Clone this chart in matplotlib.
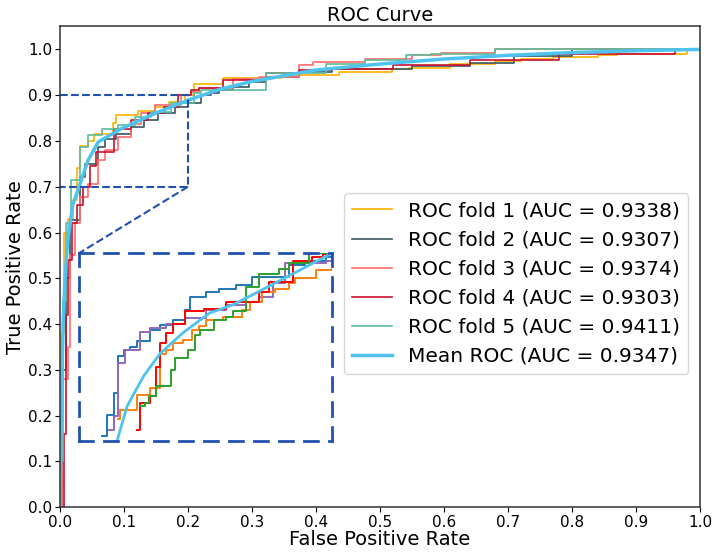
import matplotlib
matplotlib.use('Agg')
import matplotlib.pyplot as plt
import numpy as np

# main ROC curves (fpr, tpr vertices, drawn as steps)
fpr1 = [0, 0.002, 0.006, 0.012, 0.02, 0.026, 0.031, 0.044, 0.054, 0.083, 0.088, 0.122, 0.148, 0.17, 0.195, 0.21,
        0.254, 0.347, 0.436, 0.518, 0.545, 0.61, 0.68, 0.72, 0.77, 0.84, 0.87, 0.98, 1.0]
tpr1 = [0, 0.38, 0.60, 0.63, 0.67, 0.74, 0.79, 0.80, 0.815, 0.84, 0.856, 0.866, 0.875, 0.885, 0.90, 0.925,
        0.937, 0.944, 0.95, 0.957, 0.96, 0.968, 0.975, 0.979, 0.984, 0.988, 0.991, 1.0, 1.0]

fpr2 = [0, 0.004, 0.01, 0.0155, 0.031, 0.039, 0.06, 0.07, 0.088, 0.111, 0.132, 0.153, 0.179, 0.20, 0.22, 0.236,
        0.249, 0.27, 0.296, 0.322, 0.374, 0.425, 0.55, 0.64, 0.71, 0.80, 1.0]
tpr2 = [0, 0.30, 0.50, 0.627, 0.722, 0.75, 0.787, 0.805, 0.816, 0.831, 0.845, 0.86, 0.875, 0.883, 0.90, 0.905,
        0.911, 0.918, 0.929, 0.94, 0.951, 0.957, 0.964, 0.971, 0.985, 1.0, 1.0]

fpr3 = [0, 0.003, 0.012, 0.016, 0.023, 0.031, 0.044, 0.06, 0.07, 0.091, 0.111, 0.127, 0.148, 0.189, 0.205, 0.218,
        0.27, 0.311, 0.374, 0.395, 0.477, 0.55, 0.596, 0.68, 1.0]
tpr3 = [0, 0.28, 0.35, 0.55, 0.62, 0.678, 0.707, 0.758, 0.78, 0.809, 0.838, 0.86, 0.878, 0.90, 0.907, 0.915,
        0.935, 0.94, 0.966, 0.973, 0.98, 0.988, 0.993, 1.0, 1.0]

fpr4 = [0, 0.006, 0.009, 0.012, 0.0186, 0.026, 0.036, 0.047, 0.057, 0.085, 0.111, 0.137, 0.163, 0.184, 0.205,
        0.218, 0.254, 0.322, 0.374, 0.425, 0.52, 0.64, 0.78, 0.96, 1.0]
tpr4 = [0, 0.16, 0.42, 0.54, 0.62, 0.66, 0.70, 0.745, 0.775, 0.827, 0.845, 0.86, 0.875, 0.90, 0.911,
        0.915, 0.933, 0.948, 0.955, 0.957, 0.965, 0.976, 0.99, 1.0, 1.0]

fpr5 = [0, 0.002, 0.005, 0.01, 0.018, 0.031, 0.044, 0.065, 0.091, 0.117, 0.142, 0.174, 0.21, 0.22, 0.322,
        0.415, 0.477, 0.54, 0.58, 0.68, 1.0]
tpr5 = [0, 0.10, 0.45, 0.62, 0.715, 0.787, 0.813, 0.827, 0.835, 0.853, 0.864, 0.882, 0.904, 0.912, 0.948,
        0.969, 0.976, 0.987, 0.99, 1.0, 1.0]

mean_fpr = [0, 0.002, 0.005, 0.008, 0.012, 0.02, 0.03, 0.044, 0.06, 0.096, 0.148, 0.2, 0.25, 0.3, 0.4, 0.5,
            0.6, 0.7, 0.8, 0.9, 1.0]
mean_tpr = [0, 0.20, 0.40, 0.50, 0.58, 0.66, 0.70, 0.758, 0.798, 0.827, 0.86, 0.889, 0.913, 0.93, 0.955, 0.968,
            0.979, 0.987, 0.993, 0.997, 1.0]

fold_fpr = [fpr1, fpr2, fpr3, fpr4, fpr5]
fold_tpr = [tpr1, tpr2, tpr3, tpr4, tpr5]
fold_auc = [0.9338, 0.9307, 0.9374, 0.9303, 0.9411]
mean_auc = 0.9347
fold_colors = ['#FFB000', '#3A5560', '#FF6B6B', '#C8102E', '#5DBB9A']
mean_color = '#4FC3F0'

# zoomed-in curves shown in the inset (x 0-0.2, y 0.7-0.9)
in_fpr_blue = [0.0183, 0.0222, 0.0274, 0.031, 0.0353, 0.0405, 0.0457, 0.056, 0.064, 0.0745, 0.0836, 0.0876,
               0.1006, 0.111, 0.124, 0.137, 0.166, 0.179, 0.195, 0.2]
in_tpr_blue = [0.705, 0.728, 0.751, 0.79, 0.797, 0.80, 0.806, 0.818, 0.823, 0.829, 0.839, 0.853,
               0.859, 0.862, 0.866, 0.875, 0.887, 0.892, 0.896, 0.898]
in_fpr_purple = [0.0235, 0.0274, 0.031, 0.0366, 0.0484, 0.056, 0.069, 0.0836, 0.1006, 0.116, 0.132, 0.142,
                 0.153, 0.163, 0.195, 0.2]
in_tpr_purple = [0.712, 0.726, 0.783, 0.797, 0.816, 0.82, 0.825, 0.831, 0.839, 0.845, 0.848, 0.853,
                 0.868, 0.89, 0.892, 0.896]
in_fpr_red = [0.0457, 0.048, 0.056, 0.061, 0.064, 0.069, 0.0745, 0.0836, 0.099, 0.116, 0.142, 0.150, 0.169,
              0.184, 0.193, 0.2]
in_tpr_red = [0.712, 0.74, 0.748, 0.779, 0.804, 0.815, 0.825, 0.838, 0.841, 0.848, 0.859, 0.869, 0.892,
              0.896, 0.899, 0.900]
in_fpr_green = [0.048, 0.052, 0.055, 0.061, 0.073, 0.0758, 0.0863, 0.0915, 0.0954, 0.107, 0.116, 0.1216,
                0.132, 0.1425, 0.158, 0.166, 0.182, 0.2]
in_tpr_green = [0.737, 0.74, 0.748, 0.758, 0.776, 0.788, 0.797, 0.813, 0.818, 0.829, 0.832, 0.838,
                0.864, 0.878, 0.883, 0.889, 0.90, 0.90]
in_fpr_orange = [0.031, 0.0325, 0.0457, 0.056, 0.064, 0.069, 0.0745, 0.082, 0.0889, 0.095, 0.1, 0.114, 0.129,
                 0.135, 0.145, 0.155, 0.166, 0.171, 0.187, 0.2]
in_tpr_orange = [0.723, 0.733, 0.749, 0.756, 0.793, 0.797, 0.804, 0.808, 0.818, 0.822, 0.829, 0.832, 0.839,
                 0.848, 0.859, 0.862, 0.868, 0.873, 0.882, 0.883]
in_fpr_mean = [0.030, 0.038, 0.051, 0.064, 0.082, 0.103, 0.1216, 0.142, 0.169, 0.2]
in_tpr_mean = [0.70, 0.737, 0.769, 0.793, 0.815, 0.836, 0.845, 0.859, 0.878, 0.90]

inset_fprs = [in_fpr_blue, in_fpr_purple, in_fpr_orange, in_fpr_red, in_fpr_green]
inset_tprs = [in_tpr_blue, in_tpr_purple, in_tpr_orange, in_tpr_red, in_tpr_green]
inset_colors = ['#1f77b4', '#9467bd', '#ff7f0e', 'red', '#2ca02c']

box_color = '#2050B0'

fig, ax = plt.subplots(figsize=(7.13, 5.52), dpi=100)
fig.subplots_adjust(left=0.084, right=0.982, bottom=0.081, top=0.952)

for i in range(5):
    ax.plot(fold_fpr[i], fold_tpr[i], color=fold_colors[i], lw=1.2, drawstyle='steps-post',
            label='ROC fold %d (AUC = %.4f)' % (i + 1, fold_auc[i]))
ax.plot(mean_fpr, mean_tpr, color=mean_color, lw=2.5, label='Mean ROC (AUC = %.4f)' % mean_auc)

# zoom rectangle and connector
ax.plot([0, 0.2, 0.2, 0], [0.9, 0.9, 0.7, 0.7], ls='--', color=box_color, lw=1.5)
ax.plot([0.2, 0.03], [0.7, 0.555], ls='--', color=box_color, lw=1.5)

ax.set_xlim(0, 1)
ax.set_ylim(0, 1.05)
ax.set_xticks(np.arange(0, 1.01, 0.1))
ax.set_yticks(np.arange(0, 1.01, 0.1))
ax.tick_params(labelsize=11, pad=2)
for sp in ax.spines.values():
    sp.set_color('#333333')
    sp.set_linewidth(1.1)
ax.set_xlabel('False Positive Rate', fontsize=14, labelpad=0)
ax.set_ylabel('True Positive Rate', fontsize=14, labelpad=2)
ax.set_title('ROC Curve', fontsize=14, pad=4)
ax.legend(loc='center right', fontsize=14.5, bbox_to_anchor=(1.0, 0.465), borderaxespad=0.6)

axins = ax.inset_axes([0.03, 0.145, 0.395, 0.41], transform=ax.transData)
for i in range(5):
    axins.plot(inset_fprs[i], inset_tprs[i], color=inset_colors[i], lw=1.4, drawstyle='steps-post')
axins.plot(in_fpr_mean, in_tpr_mean, color=mean_color, lw=2)
axins.set_xlim(0, 0.2)
axins.set_ylim(0.7, 0.9)
axins.set_xticks([])
axins.set_yticks([])
for sp in axins.spines.values():
    sp.set_linestyle((0, (5, 4)))
    sp.set_color(box_color)
    sp.set_linewidth(2)

fig.savefig('out.png', dpi=100)
